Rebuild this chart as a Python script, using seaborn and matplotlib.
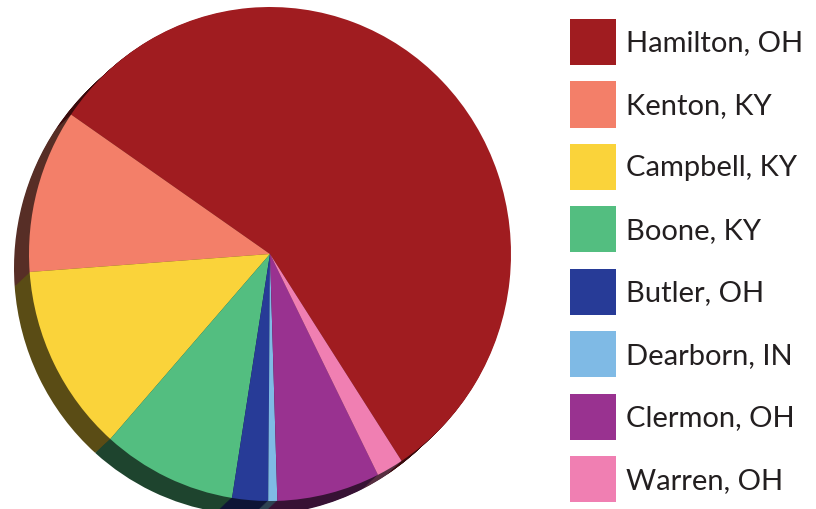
import matplotlib
matplotlib.use("Agg")
import matplotlib.pyplot as plt
from matplotlib.patches import Patch
import seaborn as sns

# Share by county
counties = ["Hamilton, OH", "Kenton, KY", "Campbell, KY", "Boone, KY",
            "Butler, OH", "Dearborn, IN", "Clermon, OH", "Warren, OH"]
shares = [56.2, 10.7, 12.3, 9.0, 2.4, 0.6, 6.9, 1.8]
hex_colors = ["#A01C20", "#F37F69", "#FAD33A", "#53BE80",
              "#273B97", "#7FBAE5", "#993290", "#F07FB2"]

sns.set_theme(style="white")
plt.rcParams['font.family'] = ['Lato', 'DejaVu Sans']

palette = sns.color_palette(hex_colors)
dark = [tuple(c * 0.36 for c in col) for col in palette]

W, H = 816, 509
RX, RY = 241.0, 247.0
CX, CY = 270.0, 254.0

fig = plt.figure(figsize=(W / 100, H / 100), dpi=100)
ax = fig.add_axes([0, 0, 1, 1])

# 3D rim: stacked darker copies offset down-left
n_steps = 16
dx, dy = -15 / RX, -14 / RY
for i in range(n_steps, 0, -1):
    f = i / n_steps
    ax.pie(shares, colors=dark, startangle=303.1, counterclock=True,
           radius=1, center=(dx * f, dy * f),
           wedgeprops=dict(linewidth=0, antialiased=True))

# top face
wedges, _ = ax.pie(shares, colors=palette, startangle=303.1, counterclock=True,
                   radius=1, center=(0, 0),
                   wedgeprops=dict(linewidth=0, antialiased=True))

ax.set_aspect('auto')
ax.set_xlim(-CX / RX, (W - CX) / RX)
ax.set_ylim(-(H - CY) / RY, CY / RY)
ax.axis('off')

fs = 21
handles = [Patch(facecolor=c, edgecolor='none') for c in palette]
leg = fig.legend(handles, counties, loc='upper left',
                 bbox_to_anchor=(570 / W, 1 - 19 / H),
                 frameon=False, fontsize=fs,
                 handlelength=1.575, handleheight=2.05,
                 handletextpad=0.35, labelspacing=0.565,
                 borderaxespad=0, borderpad=0.0)
for t in leg.get_texts():
    t.set_color('#231F20')

fig.savefig("out.png", dpi=100, facecolor='white')
